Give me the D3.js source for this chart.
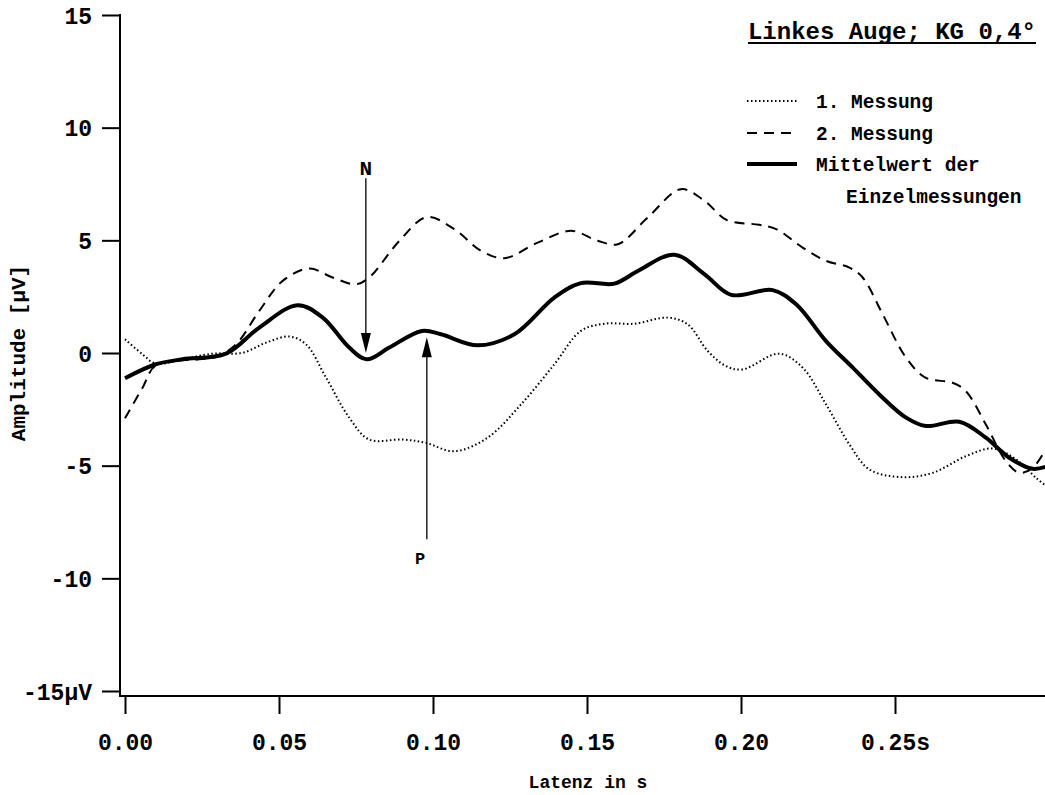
<!DOCTYPE html>
<html>
<head>
<meta charset="utf-8">
<script src="https://cdn.jsdelivr.net/npm/d3@7"></script>
<style>
  body { margin: 0; background: #fff; }
  svg { display: block; font-family: "Liberation Mono", "Courier New", monospace; font-weight: bold; }
</style>
</head>
<body>
<div id="chart"></div>
<script>
// 1. Messung (dotted)
const t1 = [0, 0.0057, 0.010, 0.0187, 0.0284, 0.0382, 0.0458, 0.0534, 0.0588, 0.0653, 0.0728, 0.0793, 0.0902, 0.0975,
  0.1069, 0.1177, 0.1286, 0.1394, 0.148, 0.1556, 0.1654, 0.1762, 0.1827, 0.1892, 0.1951, 0.2005, 0.2124, 0.22,
  0.2276, 0.2352, 0.2417, 0.2525, 0.2622, 0.273, 0.2817, 0.2893, 0.2958, 0.3]
const v1 = [0.61, -0.06, -0.47, -0.28, -0.03, 0.01, 0.46, 0.73, 0.38, -1.10, -2.87, -3.84, -3.84, -3.98,
  -4.36, -3.76, -2.28, -0.50, 0.98, 1.30, 1.30, 1.57, 1.27, 0.09, -0.58, -0.73, -0.03, -0.65,
  -2.28, -4.06, -5.17, -5.51, -5.32, -4.58, -4.24, -4.72, -5.54, -6.0]

// 2. Messung (dashed)
const t2 = [0, 0.0057, 0.010, 0.0241, 0.0295, 0.036, 0.0436, 0.0512, 0.0598, 0.0674, 0.075, 0.0793, 0.0891, 0.098,
  0.1069, 0.1156, 0.1232, 0.134, 0.1448, 0.1535, 0.16, 0.1697, 0.1805, 0.1881, 0.1954, 0.2059, 0.2114, 0.22,
  0.2276, 0.2352, 0.2395, 0.246, 0.2536, 0.26, 0.2687, 0.273, 0.2795, 0.286, 0.2904, 0.2947, 0.3]
const v2 = [-2.90, -1.54, -0.55, -0.28, -0.18, 0.38, 1.87, 3.2, 3.75, 3.35, 3.05, 3.35, 4.98, 6.03,
  5.50, 4.53, 4.21, 4.90, 5.42, 4.98, 4.83, 6.01, 7.27, 6.76, 5.90, 5.69, 5.50, 4.68,
  4.09, 3.79, 3.35, 1.72, -0.21, -1.10, -1.32, -1.69, -3.17, -4.80, -5.32, -5.10, -4.0]

// Mittelwert der Einzelmessungen (solid)
const tm = [0, 0.010, 0.0187, 0.0328, 0.0436, 0.056, 0.0642, 0.0728, 0.0785, 0.0858, 0.0964, 0.1026, 0.1145,
  0.1264, 0.1394, 0.148, 0.1589, 0.1665, 0.1784, 0.1881, 0.1968, 0.2103, 0.2179, 0.2276, 0.2363, 0.2449,
  0.2536, 0.26, 0.2709, 0.2795, 0.2871, 0.2947, 0.3]
const vm = [-1.12, -0.50, -0.28, -0.03, 1.13, 2.12, 1.57, 0.24, -0.28, 0.24, 0.98, 0.83, 0.34,
  0.83, 2.46, 3.10, 3.08, 3.64, 4.36, 3.50, 2.58, 2.79, 2.16, 0.53, -0.65, -1.84,
  -2.87, -3.24, -3.05, -3.76, -4.65, -5.14, -5.0]

const yTicks = [-15, -10, -5, 0, 5, 10, 15]
const xTicks = [0, 0.05, 0.10, 0.15, 0.20, 0.25]
const legendLabels = ['1. Messung', '2. Messung', 'Mittelwert der']
const legendExtra = 'Einzelmessungen'
const title = 'Linkes Auge; KG 0,4°'

// annotations: [label, time, label value, line start value, tip value]
const arrowN = ['N', 0.0782, 8.24, 7.75, 0.0]
const arrowP = ['P', 0.098, -9.1, -8.27, 0.7]

const width = 1045
const height = 795

const svg = d3.select('#chart')
  .append('svg')
  .attr('width', width)
  .attr('height', height)

const x = d3.scaleLinear([0, 0.3], [125, 1049])
const y = d3.scaleLinear([-15, 15], [691, 15])

svg.append('defs').append('clipPath')
  .attr('id', 'plot')
  .append('rect')
  .attr('x', 120).attr('y', 0)
  .attr('width', width - 120).attr('height', 700)

// axes
const yAxis = d3.axisLeft(y)
  .tickValues(yTicks)
  .tickSize(18)
  .tickSizeOuter(0)
  .tickPadding(10)
  .tickFormat(d => d === -15 ? '-15µV' : d)

const xAxis = d3.axisBottom(x)
  .tickValues(xTicks)
  .tickSize(18)
  .tickSizeOuter(0)
  .tickPadding(20)
  .tickFormat(d => d === 0.25 ? '0.25s' : d3.format('.2f')(d))

const gy = svg.append('g')
  .attr('transform', 'translate(120, 0)')
  .call(yAxis)

const gx = svg.append('g')
  .attr('transform', 'translate(0, 696)')
  .call(xAxis)

for (const g of [gx, gy]) {
  g.select('.domain').remove()
  g.selectAll('line').attr('stroke', '#000').attr('stroke-width', 2)
  g.selectAll('text')
    .attr('fill', '#000')
    .style('font-size', '23px')
    .style('font-family', '"Liberation Mono", monospace')
    .style('font-weight', 'bold')
}
gy.selectAll('text').attr('dy', '0.36em')

svg.append('line')
  .attr('x1', 120).attr('x2', 120)
  .attr('y1', 14).attr('y2', 697)
  .attr('stroke', '#000').attr('stroke-width', 2)

svg.append('line')
  .attr('x1', 119).attr('x2', width)
  .attr('y1', 696).attr('y2', 696)
  .attr('stroke', '#000').attr('stroke-width', 2)

svg.append('text')
  .attr('x', 588).attr('y', 788)
  .attr('text-anchor', 'middle')
  .style('font-size', '18px')
  .text('Latenz in s')

svg.append('text')
  .attr('transform', `translate(25, ${y(0)}) rotate(-90)`)
  .attr('text-anchor', 'middle')
  .style('font-size', '21px')
  .text('Amplitude [µV]')

// curves
const line = d3.line()
  .x(d => x(d[0]))
  .y(d => y(d[1]))
  .curve(d3.curveCatmullRom.alpha(0.5))

const plot = svg.append('g').attr('clip-path', 'url(#plot)')

plot.append('path')
  .datum(d3.zip(t1, v1))
  .attr('d', line)
  .attr('fill', 'none')
  .attr('stroke', '#000')
  .attr('stroke-width', 2)
  .attr('stroke-dasharray', '1.5,2.5')

plot.append('path')
  .datum(d3.zip(t2, v2))
  .attr('d', line)
  .attr('fill', 'none')
  .attr('stroke', '#000')
  .attr('stroke-width', 2)
  .attr('stroke-dasharray', '10,7')

plot.append('path')
  .datum(d3.zip(tm, vm))
  .attr('d', line)
  .attr('fill', 'none')
  .attr('stroke', '#000')
  .attr('stroke-width', 4)

// N / P arrows
function arrow([label, t, labelV, fromV, tipV], size) {
  const ax = x(t)
  const y0 = y(fromV)
  const y1 = y(tipV)
  const dir = y1 > y0 ? 1 : -1
  svg.append('line')
    .attr('x1', ax).attr('x2', ax)
    .attr('y1', y0).attr('y2', y1 - dir * 10)
    .attr('stroke', '#000').attr('stroke-width', 1.3)
  svg.append('path')
    .attr('d', `M${ax},${y1} L${ax - 5},${y1 - dir * 20} L${ax + 5},${y1 - dir * 20} Z`)
    .attr('fill', '#000')
  svg.append('text')
    .attr('x', x(label === 'P' ? 0.0958 : t))
    .attr('y', y(labelV))
    .attr('dy', '0.36em')
    .attr('text-anchor', 'middle')
    .style('font-size', size)
    .text(label)
}
arrow(arrowN, '21px')
arrow(arrowP, '17px')

// title
const titleText = svg.append('text')
  .attr('x', 1036).attr('y', 39)
  .attr('text-anchor', 'end')
  .style('font-size', '24px')
  .text(title)
const tb = titleText.node().getBBox()
svg.append('line')
  .attr('x1', tb.x).attr('x2', tb.x + tb.width)
  .attr('y1', 43).attr('y2', 43)
  .attr('stroke', '#000').attr('stroke-width', 2)

// legend
const legendStyles = [
  { width: 2, dash: '1.5,2.5' },
  { width: 2, dash: '10,7' },
  { width: 4, dash: null }
]
const legendY = [101, 133, 164]

legendLabels.forEach((label, i) => {
  svg.append('line')
    .attr('x1', 747).attr('x2', 797)
    .attr('y1', legendY[i]).attr('y2', legendY[i])
    .attr('stroke', '#000')
    .attr('stroke-width', legendStyles[i].width)
    .attr('stroke-dasharray', legendStyles[i].dash)
  svg.append('text')
    .attr('x', 816).attr('y', legendY[i])
    .attr('dy', '0.36em')
    .style('font-size', '19.5px')
    .text(label)
})

svg.append('text')
  .attr('x', 846).attr('y', 196)
  .attr('dy', '0.36em')
  .style('font-size', '19.5px')
  .text(legendExtra)
</script>
</body>
</html>
